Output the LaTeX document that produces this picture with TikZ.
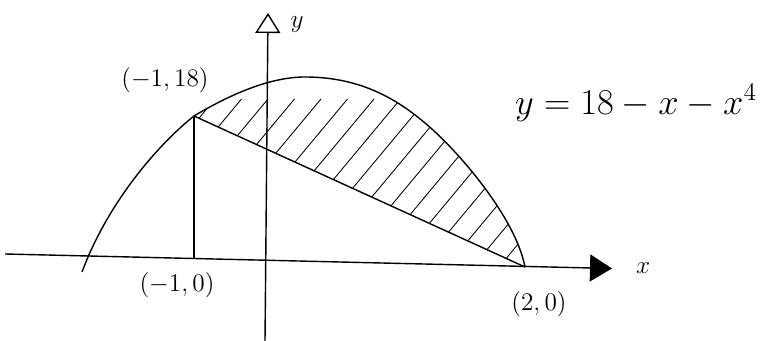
\documentclass[tikz,border=0pt]{standalone}
\usetikzlibrary{arrows.meta}
\begin{document}
\begin{tikzpicture}[line width = 0.8pt, every node/.style = {font = \Large}]
\useasboundingbox (0,0) rectangle (15.22,6.82);

\draw[-{Triangle[length = 4.4mm, width = 5.4mm]}] (0.1,1.74) -- (12.24,1.45) node (xlab) [right = 0.35cm] {$x$};
\draw[-{Triangle[open, length = 4mm, width = 5mm]}] (5.3,0) -- (5.36,6.56);
\node (ylab) at (5.94,6.32) {$y$};

\coordinate (top) at (3.88,4.5);
\coordinate (foot) at (3.88,1.66);
\coordinate (right) at (10.5,1.48);

\draw (1.64,1.38) .. controls (2.15,2.75) and (3.13,3.9) .. (top);
\draw (top) .. controls (4.6,4.93) and (5.4,5.28) .. (6.1,5.28)
	.. controls (7.3,5.28) and (8.06,4.76) .. (8.66,4.22)
	.. controls (9.16,3.77) and (10.3,2.5) .. (right);

\begin{scope}
	\clip (top) .. controls (4.6,4.93) and (5.4,5.28) .. (6.1,5.28)
		.. controls (7.3,5.28) and (8.06,4.76) .. (8.66,4.22)
		.. controls (9.16,3.77) and (10.3,2.5) .. (right) -- cycle;
	\foreach \i in {0,...,18}
	{
		\draw[line width = 0.5pt] (1.1+0.53*\i, 1) -- ++(3.2,3.84);
	}
\end{scope}

\draw (top) -- (right);
\draw (top) -- (foot);

\node (toplab) at (3.3,5.22) {$(-1,18)$};
\node (footlab) at (3.54,1.12) {$(-1,0)$};
\node (rightlab) at (10.78,0.74) {$(2,0)$};
\node (eqn) at (12.72,4.76) {\huge $y = 18 - x - x^4$};
\end{tikzpicture}
\end{document}
